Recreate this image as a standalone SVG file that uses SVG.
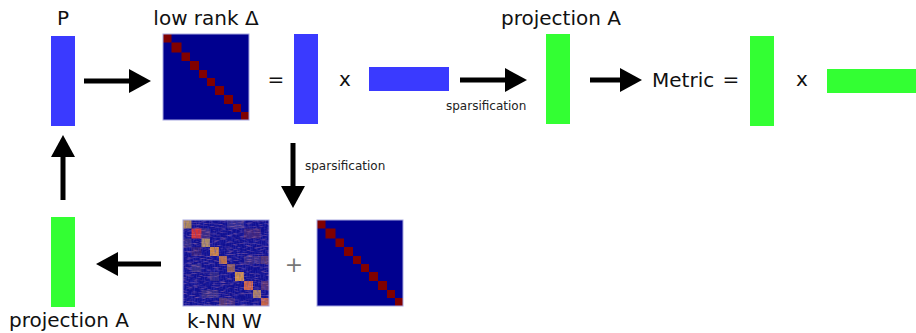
<svg xmlns="http://www.w3.org/2000/svg" xmlns:xlink="http://www.w3.org/1999/xlink" width="916" height="333" viewBox="0 0 916 333">
  <style>
    .lbl { font-family: "DejaVu Sans", Verdana, sans-serif; font-size: 20px; fill: #111; }
    .small { font-family: "DejaVu Sans", Verdana, sans-serif; font-size: 12px; fill: #222; }
    .plus { font-family: "DejaVu Sans", Verdana, sans-serif; font-size: 22px; fill: #777; }
    .blue { fill: #3a3aff; }
    .green { fill: #33ff33; }
    .conn { stroke: #000; stroke-width: 5; fill: none; marker-end: url(#head); }
    .mbg { fill: #00008f; }
    .mdiag { fill: #800000; }
    .mframe { fill: none; stroke: #a8a8e0; stroke-width: 1; }
  </style>
  <defs>
    <marker id="head" markerUnits="userSpaceOnUse" markerWidth="24" markerHeight="26" refX="1" refY="12.5" orient="auto">
      <path d="M0,0.5 L22,12.5 L0,24.5 Z" fill="#000"/>
    </marker>
    <!-- block-diagonal matrix, 86 x 86 -->
    <g id="blockdiag">
      <rect class="mbg" x="0" y="0" width="86" height="86"/>
      <rect class="mdiag" x="0" y="0" width="8.5" height="8.5"/>
      <rect class="mdiag" x="8.5" y="8.5" width="10" height="10"/>
      <rect class="mdiag" x="18.5" y="18.5" width="8.5" height="8.5"/>
      <rect class="mdiag" x="27" y="27" width="9" height="9"/>
      <rect class="mdiag" x="36" y="36" width="8" height="8"/>
      <rect class="mdiag" x="44" y="44" width="8" height="8"/>
      <rect class="mdiag" x="52" y="52" width="9" height="9"/>
      <rect class="mdiag" x="61" y="61" width="9" height="9"/>
      <rect class="mdiag" x="70" y="70" width="8" height="8"/>
      <rect class="mdiag" x="78" y="78" width="8" height="8"/>
      <rect class="mframe" x="0" y="0" width="86" height="86"/>
    </g>
    <filter id="speckleWarm" x="0" y="0" width="1" height="1">
      <feTurbulence type="fractalNoise" baseFrequency="0.15 0.9" numOctaves="2" seed="3"/>
      <feColorMatrix type="matrix" values="0 0 0 0 0.75  0 0 0 0 0.3  0 0 0 0 0.4  1.3 0 0 0 -0.62"/>
    </filter>
    <filter id="speckleCool" x="0" y="0" width="1" height="1">
      <feTurbulence type="fractalNoise" baseFrequency="0.9 0.15" numOctaves="2" seed="11"/>
      <feColorMatrix type="matrix" values="0 0 0 0 0.05  0 0 0 0 0.05  0 0 0 0 0.5  1.2 0 0 0 -0.5"/>
    </filter>
  </defs>

  <g id="connectors">
    <path class="conn" d="M84,81 H130"/>
    <path class="conn" d="M460,80 H506"/>
    <path class="conn" d="M590,80 H621"/>
    <path class="conn" d="M293,143 V187"/>
    <path class="conn" d="M63,200 V156"/>
    <path class="conn" d="M161,264 H117"/>
    <text class="small" x="446" y="110">sparsification</text>
    <text class="small" x="305" y="170">sparsification</text>
  </g>

  <g id="node-p">
    <text class="lbl" x="63" y="25" text-anchor="middle">P</text>
    <rect class="blue" x="51" y="36" width="24" height="90"/>
  </g>

  <g id="node-lowrank">
    <text class="lbl" x="206" y="25" text-anchor="middle">low rank Δ</text>
    <use xlink:href="#blockdiag" transform="translate(163,34)"/>
  </g>

  <g id="node-factor-u">
    <text class="lbl" x="276" y="86" text-anchor="middle">=</text>
    <rect class="blue" x="294" y="34" width="24" height="90"/>
    <text class="lbl" x="345" y="86" text-anchor="middle">x</text>
    <rect class="blue" x="369" y="67" width="80" height="24"/>
  </g>

  <g id="node-projection-top">
    <text class="lbl" x="561" y="25" text-anchor="middle">projection A</text>
    <rect class="green" x="546" y="34" width="24" height="90"/>
  </g>

  <g id="node-metric">
    <text class="lbl" x="652" y="87">Metric</text>
    <text class="lbl" x="731" y="86" text-anchor="middle">=</text>
    <rect class="green" x="750" y="36" width="24" height="90"/>
    <text class="lbl" x="802" y="86" text-anchor="middle">x</text>
    <rect class="green" x="827" y="69" width="89" height="24"/>
  </g>

  <g id="node-knn">
    <rect x="183" y="220" width="86" height="86" fill="#101092"/>
    <!-- diagonal neighbourhood blocks -->
    <g transform="translate(183,220)">
      <rect x="0" y="0" width="8.5" height="8.5" fill="#b08a58"/>
      <rect x="8.5" y="8.5" width="10" height="10" fill="#d83434"/>
      <rect x="18.5" y="18.5" width="8.5" height="8.5" fill="#b09060"/>
      <rect x="27" y="27" width="9" height="9" fill="#c88444"/>
      <rect x="36" y="36" width="8" height="8" fill="#c07444"/>
      <rect x="44" y="44" width="8" height="8" fill="#8c5c58"/>
      <rect x="52" y="52" width="9" height="9" fill="#d49444"/>
      <rect x="61" y="61" width="9" height="9" fill="#d06444"/>
      <rect x="70" y="70" width="8" height="8" fill="#b08464"/>
      <rect x="78" y="78" width="8" height="8" fill="#c86444"/>
      <!-- weaker off-diagonal links -->
      <g opacity="0.4">
        <rect x="44" y="0" width="17" height="8.5" fill="#6a5a90"/>
        <rect x="18.5" y="8.5" width="8.5" height="10" fill="#7a5070"/>
        <rect x="61" y="8.5" width="17" height="10" fill="#804060"/>
        <rect x="0" y="18.5" width="8.5" height="8.5" fill="#705878"/>
        <rect x="78" y="36" width="8" height="8" fill="#c07048"/>
        <rect x="8.5" y="44" width="10" height="8" fill="#6a5a88"/>
        <rect x="61" y="36" width="17" height="8" fill="#6a4a80"/>
        <rect x="27" y="52" width="9" height="9" fill="#604c80"/>
        <rect x="78" y="61" width="8" height="9" fill="#c06048"/>
        <rect x="18.5" y="70" width="17" height="8" fill="#705878"/>
        <rect x="36" y="78" width="8" height="8" fill="#c07048"/>
        <rect x="44" y="78" width="8" height="8" fill="#805070"/>
        <rect x="8.5" y="27" width="10" height="9" fill="#603060"/>
      </g>
    </g>
    <rect x="183" y="220" width="86" height="86" filter="url(#speckleWarm)"/>
    <rect x="183" y="220" width="86" height="86" filter="url(#speckleCool)"/>
    <rect class="mframe" x="183" y="220" width="86" height="86"/>
    <text class="lbl" x="187" y="328">k-NN W</text>
  </g>

  <g id="node-plus">
    <text class="plus" x="294" y="272" text-anchor="middle">+</text>
  </g>

  <g id="node-sparse">
    <use xlink:href="#blockdiag" transform="translate(317,220)"/>
  </g>

  <g id="node-projection-bottom">
    <rect class="green" x="51" y="217" width="24" height="90"/>
    <text class="lbl" x="9" y="327">projection A</text>
  </g>
</svg>
